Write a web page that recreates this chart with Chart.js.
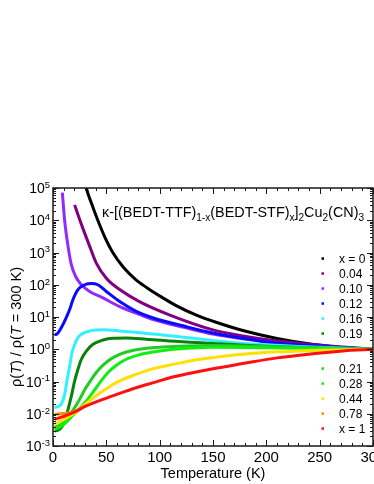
<!DOCTYPE html>
<html>
<head>
<meta charset="utf-8">
<script src="https://cdn.jsdelivr.net/npm/chart.js@4/dist/chart.umd.min.js"></script>
<style>
  body { margin: 0; background: #fff; }
  #wrap { width: 374px; height: 484px; }
</style>
</head>
<body>
<div id="wrap"><canvas id="chart"></canvas></div>
<script>
const FONT = '"Liberation Sans", Arial, Helvetica, sans-serif';

const seriesLabels = ['x = 0', '0.04', '0.10', '0.12', '0.16', '0.19', '0.21', '0.28', '0.44', '0.78', 'x = 1'];
const seriesColors = ['#000000', '#800080', '#8f2bff', '#0a0aff', '#33f0ff', '#0a820a',
                      '#22cc22', '#11ee11', '#ffe000', '#ff8c00', '#ff1010'];

// [T (K), rho(T) / rho(300 K)]
const rhoX0 = [[29, 2.8e5], [31, 1.1e5], [36, 3.4e4], [42, 1.0e4], [49, 2.8e3], [56, 1.0e3], [66, 350],
  [77, 150], [88, 81], [100, 45], [115, 23], [135, 11.2], [155, 6.5], [178, 3.8], [210, 2.15],
  [241, 1.45], [272, 1.12], [300, 1.0]];
const rhoX004 = [[20.3, 3.0e4], [24, 1.3e4], [28, 5.6e3], [34.4, 1.55e3], [40.6, 470], [50, 160],
  [62.5, 71], [81, 30], [109, 11.7], [150, 4.0], [178, 2.6], [210, 1.8], [241, 1.42], [272, 1.17], [300, 1.0]];
const rhoX010 = [[8.75, 7.2e4], [10.9, 1.0e4], [14.1, 1.55e3], [17.2, 420], [21.25, 180], [26.6, 100],
  [34.4, 62], [46.9, 39], [62.5, 21], [81, 12], [94, 8.3], [125, 4.6], [150, 2.95], [178, 2.1],
  [210, 1.55], [241, 1.29], [272, 1.12], [300, 1.0]];
const rhoX012 = [[1.6, 3.0], [3, 2.85], [5, 3.3], [8, 4.8], [12, 8.9], [15.6, 17], [18.75, 35], [23.4, 71],
  [29.7, 100], [36, 110], [42, 100], [50, 62], [62.5, 30], [78, 15], [94, 9.3], [125, 5.0], [150, 3.2],
  [178, 2.2], [210, 1.55], [241, 1.3], [272, 1.13], [300, 1.0]];
const rhoX016 = [[1.6, 0.0155], [6.25, 0.018], [8.75, 0.023], [10.9, 0.040], [13.1, 0.105], [15.6, 0.30],
  [17.8, 0.78], [20.3, 1.4], [23.4, 2.3], [28, 3.1], [34.4, 3.7], [47, 4.0], [62.5, 3.7], [94, 2.95],
  [125, 2.3], [150, 1.85], [200, 1.38], [250, 1.15], [300, 1.0]];
const rhoX019 = [[1.6, 0.0029], [4.7, 0.0031], [7.8, 0.0037], [10.9, 0.006], [14.1, 0.0137], [17.2, 0.035],
  [20.3, 0.104], [23.4, 0.24], [26.6, 0.49], [31.25, 0.88], [37.5, 1.42], [46.9, 1.94], [56.25, 2.19],
  [68.75, 2.23], [87.5, 2.04], [109, 1.8], [150, 1.51], [200, 1.23], [250, 1.08], [300, 1.0]];
const rhoX021 = [[1.6, 0.0039], [6.25, 0.0044], [10.9, 0.006], [15.6, 0.009], [20.3, 0.0155], [25, 0.028],
  [29.7, 0.055], [34.4, 0.097], [40.6, 0.19], [46.9, 0.32], [56.25, 0.55], [68.75, 0.82], [84.4, 1.04],
  [103, 1.17], [125, 1.26], [150, 1.3], [200, 1.22], [250, 1.1], [300, 1.0]];
const rhoX028 = [[1.6, 0.0033], [6.25, 0.0038], [12.5, 0.0055], [18.75, 0.009], [25, 0.0144], [31.25, 0.025],
  [37.5, 0.047], [43.75, 0.091], [51.6, 0.19], [59.4, 0.32], [68.75, 0.49], [81.25, 0.68], [93.75, 0.82],
  [112.5, 1.0], [131, 1.1], [150, 1.15], [200, 1.12], [250, 1.05], [300, 1.0]];
const rhoX044 = [[1.6, 0.0047], [7.8, 0.006], [15.6, 0.0085], [23.4, 0.0122], [31.25, 0.021], [40.6, 0.037],
  [50, 0.060], [62.5, 0.104], [78, 0.167], [94, 0.25], [112.5, 0.34], [131, 0.45], [150, 0.55], [178, 0.70],
  [210, 0.83], [241, 0.91], [272, 0.965], [300, 1.0]];
const rhoX078 = [[1.6, 0.0096], [6.25, 0.010], [12.5, 0.0103], [18.75, 0.0112], [25, 0.0138]];
const rhoX1 = [[1.6, 0.0068], [9.4, 0.0081], [18.75, 0.0108], [31.25, 0.0174], [46.9, 0.028], [62.5, 0.043],
  [78, 0.064], [94, 0.092], [109, 0.129], [125, 0.171], [150, 0.25], [178, 0.36], [210, 0.54], [241, 0.71],
  [272, 0.89], [300, 1.0]];

const seriesData = [rhoX0, rhoX004, rhoX010, rhoX012, rhoX016, rhoX019, rhoX021, rhoX028, rhoX044, rhoX078, rhoX1];

const xTickValues = [0, 50, 100, 150, 200, 250, 300];
const yTickExponents = [-3, -2, -1, 0, 1, 2, 3, 4, 5];

const titleParts = [['κ-[(BEDT-TTF)', ''], ['1-x', 'sub'], ['(BEDT-STF)', ''], ['x', 'sub'], [']', ''],
  ['2', 'sub'], ['Cu', ''], ['2', 'sub'], ['(CN)', ''], ['3', 'sub']];
const yTitleParts = [['ρ(', ''], ['T', 'i'], [') / ρ(', ''], ['T', 'i'], [' = 300 K)', '']];
const xTitle = 'Temperature (K)';

// draws text made of plain / sub / sup / italic pieces, returns width
function drawRich(ctx, parts, x, y, size, measureOnly) {
  let cx = x;
  for (const [text, kind] of parts) {
    let fs = size, dy = 0, style = '';
    if (kind === 'sub') { fs = size * 0.7; dy = size * 0.3; }
    if (kind === 'sup') { fs = size * 0.68; dy = -size * 0.36; }
    if (kind === 'i') style = 'italic ';
    ctx.font = style + fs + 'px ' + FONT;
    if (!measureOnly) ctx.fillText(text, cx, y + dy);
    cx += ctx.measureText(text).width;
  }
  return cx - x;
}

const decorations = {
  id: 'decorations',
  afterDatasetsDraw(chart) {
    const { ctx, chartArea: a, scales: { x, y } } = chart;
    ctx.save();
    ctx.strokeStyle = '#1a1a1a';
    ctx.fillStyle = '#000';
    ctx.textAlign = 'left';
    ctx.textBaseline = 'alphabetic';

    ctx.lineWidth = 1.5;
    ctx.strokeRect(a.left, a.top, a.right - a.left, a.bottom - a.top);

    // inward ticks on all four sides
    ctx.lineWidth = 1;
    ctx.beginPath();
    for (let t = 0; t <= 300; t += 10) {
      const px = Math.round(x.getPixelForValue(t)) + 0.5;
      const len = t % 50 === 0 ? 6 : 3;
      ctx.moveTo(px, a.bottom); ctx.lineTo(px, a.bottom - len);
      ctx.moveTo(px, a.top); ctx.lineTo(px, a.top + len);
    }
    for (const e of yTickExponents) {
      for (let m = 1; m <= 9; m++) {
        if (e === yTickExponents[yTickExponents.length - 1] && m > 1) break;
        const py = Math.round(y.getPixelForValue(m * Math.pow(10, e))) + 0.5;
        const len = m === 1 ? 6 : 3;
        ctx.moveTo(a.left, py); ctx.lineTo(a.left + len, py);
        ctx.moveTo(a.right, py); ctx.lineTo(a.right - len, py);
      }
    }
    ctx.stroke();

    // tick labels
    ctx.font = '15px ' + FONT;
    ctx.textAlign = 'center';
    for (const v of xTickValues) ctx.fillText(String(v), x.getPixelForValue(v), a.bottom + 16);
    ctx.textAlign = 'left';
    for (const e of yTickExponents) {
      const parts = [['10', ''], [String(e), 'sup']];
      const w = drawRich(ctx, parts, 0, 0, 14, true);
      drawRich(ctx, parts, a.left - 3 - w, y.getPixelForValue(Math.pow(10, e)) + 5, 14);
    }

    // axis titles
    ctx.font = '14.5px ' + FONT;
    ctx.textAlign = 'center';
    ctx.fillText(xTitle, (a.left + a.right) / 2, a.bottom + 32);
    ctx.textAlign = 'left';
    ctx.save();
    ctx.translate(21, 327);
    ctx.rotate(-Math.PI / 2);
    const yw = drawRich(ctx, yTitleParts, 0, 0, 14.5, true);
    drawRich(ctx, yTitleParts, -yw / 2, 0, 14.5);
    ctx.restore();

    // title inside the plot
    drawRich(ctx, titleParts, 102, 217, 14.4);

    // legend
    ctx.font = '12px ' + FONT;
    seriesLabels.forEach((label, i) => {
      const cy = 258.3 + 15 * i + (i >= 6 ? 20 : 0);
      ctx.fillStyle = seriesColors[i];
      ctx.fillRect(321.5, cy - 1, 2.5, 2.5);
      ctx.fillStyle = '#000';
      ctx.fillText(label, 339, cy + 4.3);
    });
    ctx.restore();
  }
};

new Chart(document.getElementById('chart'), {
  type: 'line',
  data: {
    datasets: seriesData.map((pts, i) => ({
      label: seriesLabels[i],
      data: pts.map(([t, r]) => ({ x: t, y: r })),
      borderColor: seriesColors[i],
      borderWidth: 3,
      pointRadius: 0,
      fill: false,
      cubicInterpolationMode: 'monotone',
      order: seriesData.length - i
    }))
  },
  options: {
    responsive: true,
    maintainAspectRatio: false,
    animation: false,
    layout: { padding: { left: 53, top: 188, right: 1, bottom: 38 } },
    scales: {
      x: { type: 'linear', min: 0, max: 300, display: false },
      y: { type: 'logarithmic', min: 1e-3, max: 1e5, display: false }
    },
    plugins: { legend: { display: false }, tooltip: { enabled: false } }
  },
  plugins: [decorations]
});
</script>
</body>
</html>
